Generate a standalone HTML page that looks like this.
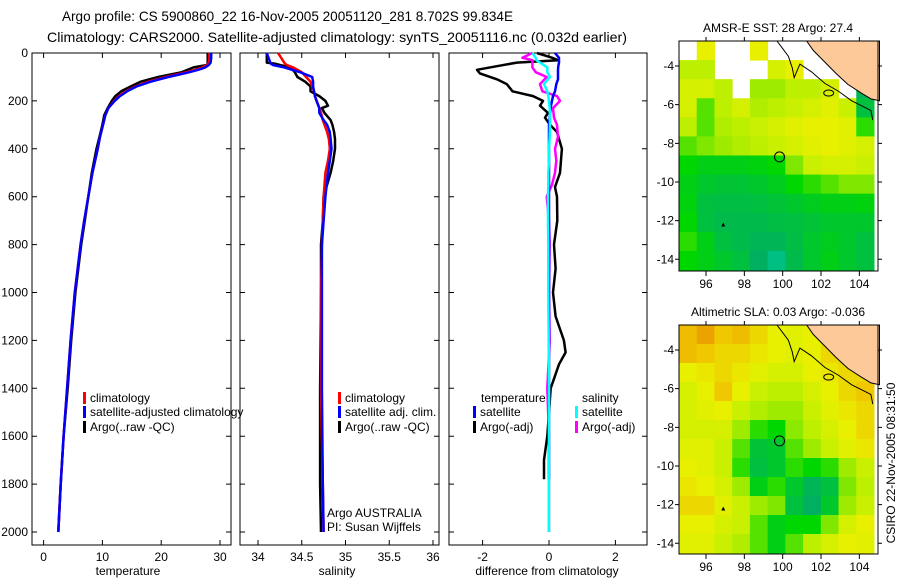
<!DOCTYPE html>
<html><head><meta charset="utf-8"><title>Argo profile</title>
<style>
html,body{margin:0;padding:0;background:#fff;}
svg{display:block;font-family:"Liberation Sans",sans-serif;}
</style></head>
<body>
<svg id="fig" width="900" height="580" viewBox="0 0 900 580" xmlns="http://www.w3.org/2000/svg">
<text x="62" y="21" font-size="14" textLength="451" lengthAdjust="spacingAndGlyphs">Argo profile: CS 5900860_22 16-Nov-2005 20051120_281 8.702S 99.834E</text>
<text x="47" y="42" font-size="14" textLength="580" lengthAdjust="spacingAndGlyphs">Climatology: CARS2000. Satellite-adjusted climatology: synTS_20051116.nc (0.032d earlier)</text>
<g id="g"></g>
</svg>
<script>
// ---------- data ----------
const depthTicks = [0,200,400,600,800,1000,1200,1400,1600,1800,2000];
const tempTicks = [0,10,20,30];
const salTicks = [34,34.5,35,35.5,36];
const diffTicks = [-2,0,2];
const depthT = [0,20,40,50,60,70,80,90,100,120,140,160,180,200,230,260,300,350,400,500,600,700,800,900,1000,1200,1400,1600,1800,2000];
const climTemp = [28.2,28.2,28.1,27.8,27,25.8,24.3,22.5,20.8,17.8,15.6,14,12.8,12,11,10.5,10.1,9.6,9.2,8.3,7.6,6.9,6.3,5.8,5.3,4.6,4.0,3.4,2.9,2.5];
const satTemp = [28.5,28.5,28.4,28.1,27.5,26.3,24.8,23,21.2,18.2,15.8,14.2,13,12.1,11,10.5,10.1,9.6,9.2,8.3,7.6,6.9,6.3,5.8,5.3,4.6,4.0,3.4,2.9,2.5];
const argoTemp = [27.9,27.9,27.9,27.8,25.5,24.5,23.5,21.5,19.5,16.5,14.8,13.2,12.2,11.6,10.9,10.3,10.0,9.5,9.0,8.2,7.6,7.0,6.4,5.9,5.4,4.7,4.1,3.4,2.9,2.5];
const depthS = [0,40,45,50,60,80,100,120,140,160,180,200,220,230,250,280,300,330,360,400,450,500,600,700,800,1000,1400,1800,2000];
const climSal = [34.23,34.3,34.31,34.33,34.4,34.5,34.55,34.6,34.62,34.64,34.65,34.67,34.69,34.7,34.72,34.74,34.76,34.79,34.81,34.82,34.8,34.77,34.75,34.74,34.73,34.72,34.72,34.74,34.75];
const satSal = [34.1,34.14,34.15,34.17,34.3,34.48,34.62,34.63,34.63,34.64,34.65,34.67,34.69,34.7,34.7,34.75,34.79,34.82,34.83,34.84,34.82,34.8,34.77,34.75,34.73,34.73,34.73,34.74,34.75];
const argoSal = [34.1,34.1,34.2,34.25,34.37,34.42,34.45,34.54,34.6,34.6,34.7,34.77,34.8,34.73,34.76,34.83,34.85,34.87,34.88,34.88,34.86,34.83,34.75,34.74,34.72,34.72,34.71,34.71,34.72];
const depthD = [0,20,30,40,55,70,85,110,130,160,180,200,220,250,270,300,330,400,500,560,600,700,800,900,1000,1100,1200,1250,1300,1400,1500,1600,1700,1780];
const diffTempArgo = [-0.36,0.1,0.27,-0.97,-1.57,-2.17,-2.08,-1.57,-1.27,-1.1,-0.48,-0.18,-0.27,-0.03,-0.12,0.03,0.24,0.39,0.33,0.18,0.24,0.25,0.15,0.2,0.12,0.2,0.45,0.5,0.3,0.05,0.0,-0.05,-0.15,-0.15];
const diffTempSat = [0.18,0.3,0.3,0.3,0.28,0.27,0.27,0.27,0.22,0.18,0.12,0.09,0.06,0.03,0.02,0,0,0,0,0,0,0,0,0,0,0,0,0,0,0,0,0,0,0];
const depthD2 = [0,20,30,60,80,100,130,160,180,200,230,270,300,350,400,450,500,550,600,700,800,1000,1200,1400,1600,2000];
const diffSalArgo = [-0.5,-0.8,-0.5,-0.5,-0.4,-0.07,-0.27,-0.2,0.24,0.33,0.12,0.15,0.24,0.27,0.18,0.22,0.18,0.09,-0.07,0,0.02,0,0.02,-0.05,0,0];
const diffSalSat = [-0.5,-0.4,-0.38,-0.05,-0.05,0.03,-0.15,-0.05,-0.02,0,0.02,0.03,0.03,0.02,0,0,-0.02,-0.02,-0.03,-0.03,-0.02,-0.02,-0.01,0,0,0];
const lonTicks = [96,98,100,102,104];
const latTicks = [-4,-6,-8,-10,-12,-14];
const sstGrid = [
[null,0.8,null,null,0.8,null,null,null,null,null,null],
[0.7,0.7,null,null,null,0.75,0.8,null,null,null,null],
[0.75,0.75,0.7,null,0.65,0.65,0.7,0.7,0.75,null,0.2],
[0.75,0.55,0.7,0.75,0.68,0.7,0.72,0.75,0.78,0.72,0.3],
[0.7,0.55,0.68,0.7,0.72,0.75,0.78,0.8,0.8,0.78,0.5],
[0.55,0.6,0.65,0.68,0.7,0.72,0.75,0.78,0.8,0.78,0.75],
[0.45,0.4,0.4,0.4,0.42,0.45,0.6,0.72,0.75,0.75,0.72],
[0.4,0.35,0.33,0.33,0.35,0.38,0.45,0.5,0.55,0.6,0.6],
[0.42,0.3,0.28,0.28,0.3,0.32,0.35,0.38,0.4,0.4,0.42],
[0.45,0.3,0.25,0.25,0.25,0.28,0.3,0.32,0.35,0.35,0.35],
[0.5,0.4,0.3,0.25,0.2,0.2,0.28,0.35,0.38,0.35,0.3],
[0.45,0.4,0.35,0.3,0.15,0.1,0.25,0.35,0.4,0.35,0.3]];
const slaGrid = [
[0.9,0.95,0.88,0.9,0.85,0.8,0.78,0.8,0.85,0.85,0.85],
[0.9,0.88,0.85,0.85,0.82,0.8,0.78,0.8,0.85,0.85,0.85],
[0.8,0.82,0.85,0.82,0.78,0.75,0.75,0.8,0.82,0.85,0.85],
[0.75,0.8,0.88,0.8,0.72,0.7,0.7,0.75,0.8,0.85,0.88],
[0.75,0.78,0.8,0.72,0.68,0.65,0.65,0.72,0.78,0.82,0.85],
[0.75,0.75,0.75,0.65,0.5,0.45,0.62,0.7,0.75,0.8,0.85],
[0.78,0.78,0.72,0.55,0.32,0.35,0.55,0.65,0.72,0.78,0.82],
[0.8,0.78,0.72,0.5,0.3,0.35,0.5,0.45,0.5,0.65,0.72],
[0.82,0.8,0.75,0.65,0.4,0.5,0.35,0.2,0.3,0.6,0.7],
[0.85,0.85,0.78,0.72,0.65,0.6,0.3,0.15,0.35,0.65,0.72],
[0.8,0.8,0.75,0.72,0.55,0.4,0.45,0.45,0.6,0.75,0.8],
[0.78,0.78,0.72,0.68,0.55,0.4,0.55,0.7,0.75,0.8,0.78]];
const landLon = [101.25,101.6,102.2,102.8,103.4,104.1,104.6,105.05,105.05];
const landLat = [-2.7,-3.2,-3.8,-4.4,-4.95,-5.4,-5.7,-5.8,-2.7];
const contLon = [99.7,100.0,100.3,100.5,100.6,100.9,101.5,102.2,102.9,103.6,104.2,104.6,104.7];
const contLat = [-2.7,-3.1,-3.5,-4.1,-4.6,-3.9,-4.3,-4.9,-5.3,-5.8,-6.1,-6.3,-6.8];
const argoPos = [99.834,-8.702];

// ---------- helpers ----------
const NS='http://www.w3.org/2000/svg';
const G=document.getElementById('g');
function el(tag,attrs,parent){const e=document.createElementNS(NS,tag);for(const k in attrs)e.setAttribute(k,attrs[k]);(parent||G).appendChild(e);return e;}
const Y0=53, PXD=0.2395;
const yD=d=>Y0+d*PXD;
const panels=[
 {name:'temperature',left:32,right:231,x0:43.6,ppu:5.88,v0:0,ticks:tempTicks,label:'temperature',lx:128},
 {name:'salinity',left:240,right:439,x0:258,ppu:87.5,v0:34,ticks:salTicks,label:'salinity',lx:337},
 {name:'difference',left:449,right:647,x0:549,ppu:33.2,v0:0,ticks:diffTicks,label:'difference from climatology',lx:547}];
const BOT=545;
panels.forEach((p,i)=>{
  p.x=v=>p.x0+(v-p.v0)*p.ppu;
  const box=el('rect',{x:p.left,y:Y0,width:p.right-p.left,height:BOT-Y0,fill:'none',stroke:'#000','stroke-width':1});
  
  
  p.ticks.forEach(t=>{
    const x=p.x(t);
    const tk=el('path',{d:`M${x},${BOT}v-5M${x},${Y0}v5`,stroke:'#000'});
    
    
    const tl=el('text',{x:x,y:BOT+16,'font-size':12,'text-anchor':'middle'});tl.textContent=String(t);
    
    
  });
  depthTicks.forEach(d=>{
    const y=yD(d);
    const tk=el('path',{d:`M${p.left},${y}h5M${p.right},${y}h-5`,stroke:'#000'});
    
    
    if(i===0){const tl=el('text',{x:28,y:y+4,'font-size':12,'text-anchor':'end'});tl.textContent=String(d);
      
      }
  });
  const al=el('text',{x:p.lx,y:575,'font-size':12,'text-anchor':'middle'});al.textContent=p.label;
  
  
});
function line(p,depths,vals,color,name,w){
  const pts=depths.map((d,i)=>p.x(vals[i]).toFixed(1)+','+yD(d).toFixed(1)).join(' ');
  const l=el('polyline',{points:pts,fill:'none',stroke:color,'stroke-width':w||2.5,'stroke-linejoin':'round'});
  
  
}
line(panels[0],depthT,argoTemp,'#000','argo-temperature-line');
line(panels[0],depthT,climTemp,'#f00','climatology-temperature-line');
line(panels[0],depthT,satTemp,'#00f','satellite-temperature-line');
line(panels[1],depthS,argoSal,'#000','argo-salinity-line');
line(panels[1],depthS,climSal,'#f00','climatology-salinity-line');
line(panels[1],depthS,satSal,'#00f','satellite-salinity-line');
line(panels[2],depthD,diffTempArgo,'#000','argo-temperature-diff-line');
line(panels[2],depthD2,diffSalArgo,'#f0f','argo-salinity-diff-line');
line(panels[2],depthD,diffTempSat,'#00f','satellite-temperature-diff-line');
line(panels[2],depthD2,diffSalSat,'#0ff','satellite-salinity-diff-line');

function legend(x,y,color,txt,name){
  const m=el('rect',{x:x,y:y-10,width:3,height:12,fill:color});
  
  
  const t=el('text',{x:x+7,y:y,'font-size':12});t.textContent=txt;
  
  
}
legend(83,402,'#f00','climatology','legend-temp-climatology');
legend(83,416,'#00f','satellite-adjusted climatology','legend-temp-satellite');
legend(83,431,'#000','Argo(..raw -QC)','legend-temp-argo');
legend(338,402,'#f00','climatology','legend-sal-climatology');
legend(338,416,'#00f','satellite adj. clim.','legend-sal-satellite');
legend(338,431,'#000','Argo(..raw -QC)','legend-sal-argo');
{const t=el('text',{x:481,y:402,'font-size':12});t.textContent='temperature';


const s=el('text',{x:582,y:402,'font-size':12});s.textContent='salinity';

}
legend(473,416,'#00f','satellite','legend-diff-temp-satellite');
legend(473,431,'#000','Argo(-adj)','legend-diff-temp-argo');
legend(575,416,'#0ff','satellite','legend-diff-sal-satellite');
legend(575,431,'#f0f','Argo(-adj)','legend-diff-sal-argo');
{const a=el('text',{x:327,y:517,'font-size':12});a.textContent='Argo AUSTRALIA';


const b=el('text',{x:327,y:531,'font-size':12});b.textContent='PI: Susan Wijffels';

}

// ---------- maps ----------
const stops=[[0,[0,220,200]],[0.15,[0,176,96]],[0.3,[0,192,64]],[0.45,[0,214,0]],[0.6,[128,232,0]],[0.72,[200,240,0]],[0.8,[232,240,0]],[0.88,[240,200,0]],[1,[232,136,0]]];
function cmap(v){for(let i=1;i<stops.length;i++){if(v<=stops[i][0]){const a=stops[i-1],b=stops[i],f=(v-a[0])/(b[0]-a[0]);return 'rgb('+a[1].map((c,k)=>Math.round(c+(b[1][k]-c)*f)).join(',')+')';}}return 'rgb(232,136,0)';}
function map(top,bottom,lat4y,grid,title,name,lonLabels){
  const left=679,right=878;
  const lx=lon=>706+(lon-96)*19.17;
  const ly=lat=>lat4y+(-4-lat)*19.33;
  const rows=grid.length,cols=grid[0].length;
  const cw=(right-4-left)/cols,ch=(bottom-1-top)/rows;
  grid.forEach((r,ri)=>r.forEach((v,ci)=>{
    if(v===null)return;
    const c=el('rect',{x:left+ci*cw,y:top+ri*ch,width:cw+0.5,height:ch+0.5,fill:cmap(v)});
    
    
  }));
  const land=el('polygon',{points:landLon.map((l,i)=>lx(l)+','+Math.max(top,ly(landLat[i]))).join(' '),fill:'#fdc998',stroke:'#000','stroke-width':1});
  
  
  const ct=el('polyline',{points:contLon.map((l,i)=>lx(l)+','+Math.max(top,ly(contLat[i]))).join(' '),fill:'none',stroke:'#000','stroke-width':1});
  
  
  const isl=el('ellipse',{cx:lx(102.4),cy:ly(-5.4),rx:5,ry:3,fill:'none',stroke:'#000'});
  
  
  const tri=el('polygon',{points:`${lx(96.9)-2},${ly(-12.2)+2} ${lx(96.9)+2},${ly(-12.2)+2} ${lx(96.9)},${ly(-12.2)-2}`,fill:'#000'});
  
  
  const ci=el('circle',{cx:lx(argoPos[0]),cy:ly(argoPos[1]),r:5,fill:'none',stroke:'#000'});
  
  
  const fr=el('rect',{x:left,y:top,width:right-left,height:bottom-top,fill:'none',stroke:'#000'});
  
  
  lonTicks.forEach(l=>{const x=lx(l);
    const tk=el('path',{d:`M${x},${bottom}v5M${x},${top}v-4`,stroke:'#000'});
    
    
    const t=el('text',{x:x,y:bottom+17,'font-size':12,'text-anchor':'middle'});t.textContent=String(l);
    
    });
  latTicks.forEach(l=>{const y=ly(l);
    const tk=el('path',{d:`M${left},${y}h-4M${right},${y}h4`,stroke:'#000'});
    
    
    const t=el('text',{x:674,y:y+4,'font-size':12,'text-anchor':'end'});t.textContent=String(l);
    
    });
  const tt=el('text',{x:778,y:top-9,'font-size':12,'text-anchor':'middle'});tt.textContent=title;
  
  
}
map(41,271,66,sstGrid,'AMSR-E SST: 28 Argo: 27.4','sst-map');
map(325,554,350,slaGrid,'Altimetric SLA: 0.03 Argo: -0.036','sla-map');
{const t=el('text',{x:0,y:0,'font-size':12,'text-anchor':'middle',transform:'translate(895,463) rotate(-90)'});t.textContent='CSIRO 22-Nov-2005 08:31:50';

}
</script>
</body></html>
